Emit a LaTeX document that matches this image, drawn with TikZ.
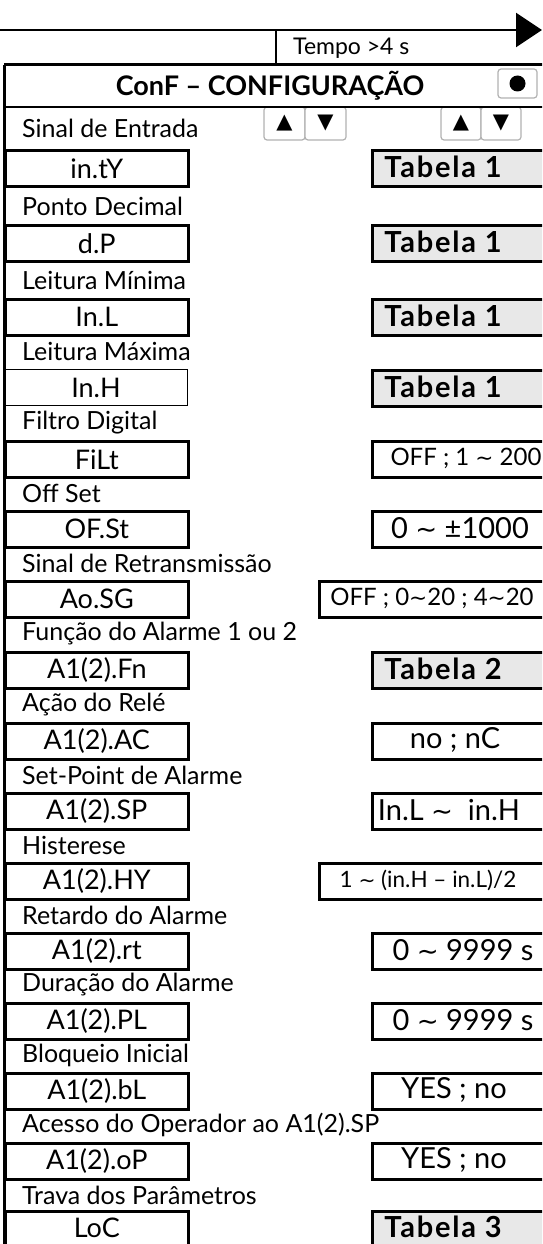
\documentclass[tikz,border=0pt]{standalone}
\usepackage{fontspec}
\setmainfont{Lato}
\newfontfamily\symfont{DejaVu Sans}
\usetikzlibrary{arrows.meta}
\newcommand\tld{{\symfont\addfontfeatures{Scale=0.9}∼}}
\newcommand\tabfont{\fontsize{29}{29}\selectfont\bfseries\addfontfeatures{LetterSpace=6}}
\newcommand\cfgrow[5]{% name, top, label-center, label, key text
  \node[lbl] (L#1) at (22,#3) {#4};
  \node[keybox] (K#1) at (4,#2) {#5};
}
\newcommand\valrow[7]{% name, top, xs, width, style, cx, text
  \node[valbox,#5,minimum width=#4] (V#1) at (#3,#2) {};
  \node[valtxt] (T#1) at (#6,#2+18) {#7};
}
\begin{document}
\begin{tikzpicture}[x=1pt,y=-1pt,
  lbl/.style={anchor=west,inner sep=0pt,font=\fontsize{25}{25}\selectfont},
  keybox/.style={draw,line width=2.6pt,anchor=north west,minimum width=183pt,minimum height=36pt,inner sep=0pt,font=\fontsize{27}{27}\selectfont},
  valbox/.style={draw,line width=2.6pt,anchor=north west,minimum height=36pt,inner sep=0pt,fill=white},
  grey/.style={fill=gray!18},
  plain/.style={},
  valtxt/.style={inner sep=0pt,font=\fontsize{29}{29}\selectfont},
  btn/.style={draw=gray!60,line width=1.2pt,rounded corners=3pt,fill=white,inner sep=0pt,font=\symfont\fontsize{21}{21}\selectfont},
  frame/.style={line width=3pt}]
\clip (0,0) rectangle (542,1244);
% top arrow
\coordinate (a0) at (0,30);
\coordinate (a1) at (542,30);
\draw[line width=2.2pt,-{Triangle[length=26pt,width=34pt]}] (a0) -- (a1);
\coordinate (t0) at (276,30);
\coordinate (t1) at (276,65);
\draw[line width=1.5pt] (t0) -- (t1);
\node[anchor=west,inner sep=0pt,font=\fontsize{23}{23}\selectfont] (tempo) at (293,48) {Tempo >4 s};
% title
\node[font=\fontsize{27}{27}\selectfont\bfseries,inner sep=0pt] (title) at (270,86) {ConF -- CONFIGURAÇÃO};
\node[btn,minimum width=39pt,minimum height=29pt] (dotbtn) at (517.5,83.5) {};
\fill (dotbtn.center) circle (8pt);
\node[btn,minimum width=41pt,minimum height=33pt] (up1) at (284.5,123.5) {▲};
\node[btn,minimum width=41pt,minimum height=33pt] (dn1) at (325.5,123.5) {▼};
\node[btn,minimum width=40pt,minimum height=33pt] (up2) at (461,123.5) {▲};
\node[btn,minimum width=40pt,minimum height=33pt] (dn2) at (501,123.5) {▼};
\coordinate (f0) at (4,65);
\coordinate (f1) at (560,65);
\coordinate (f2) at (4,107);
\coordinate (f3) at (560,107);
\coordinate (f4) at (4,1260);
\draw[frame] (f0) -- (f1);
\draw[line width=2.6pt] (f2) -- (f3);
\draw[frame] (f0) -- (f4);
% rows
\cfgrow{1}{149}{128}{Sinal de Entrada}{in.tY}
\cfgrow{2}{224}{206.5}{Ponto Decimal}{d.P}
\cfgrow{3}{298}{280.5}{Leitura Mínima}{In.L}
\node[keybox,line width=1pt] (K4) at (4,369) {In.H};
\node[lbl] (L4) at (22,351.5) {Leitura Máxima};
\cfgrow{5}{440}{422.5}{Filtro Digital}{FiLt}
\cfgrow{6}{510}{493}{Off Set}{OF.St}
\cfgrow{7}{580}{563}{Sinal de Retransmissão}{Ao.SG}
\cfgrow{8}{651}{633.5}{Função do Alarme 1 ou 2}{A1(2).Fn}
\cfgrow{9}{722}{704.5}{Ação do Relé}{A1(2).AC}
\cfgrow{10}{792}{775}{Set-Point de Alarme}{A1(2).SP}
\cfgrow{11}{862}{845}{Histerese}{A1(2).HY}
\cfgrow{12}{932}{915}{Retardo do Alarme}{A1(2).rt}
\cfgrow{13}{1002}{985}{Duração do Alarme}{A1(2).PL}
\cfgrow{14}{1072}{1055}{Bloqueio Inicial}{A1(2).bL}
\cfgrow{15}{1142}{1125}{Acesso do Operador ao A1(2).SP}{A1(2).oP}
\node[lbl] (L16) at (22,1195) {Trava dos Parâmetros};
\node[keybox,minimum height=34pt] (K16) at (4,1210) {LoC};
% values
\valrow{1}{149}{371}{189pt}{grey}{443}{\tabfont Tabela 1}
\valrow{2}{224}{371}{189pt}{grey}{443}{\tabfont Tabela 1}
\valrow{3}{298}{371}{189pt}{grey}{443}{\tabfont Tabela 1}
\valrow{4}{369}{371}{189pt}{grey}{443}{\tabfont Tabela 1}
\valrow{5}{440}{371}{189pt}{plain}{466}{\fontsize{24}{24}\selectfont OFF ; 1 \tld{} 200}
\valrow{6}{510}{371}{189pt}{plain}{460}{0 \tld{} ±1000}
\valrow{7}{580}{318}{242pt}{plain}{432}{\fontsize{24}{24}\selectfont OFF ; 0\tld{}20 ; 4\tld{}20}
\valrow{8}{651}{371}{189pt}{grey}{443}{\tabfont Tabela 2}
\valrow{9}{722}{371}{189pt}{plain}{455}{no ; nC}
\valrow{10}{792}{371}{189pt}{plain}{449}{In.L \tld{}\ \ in.H}
\valrow{11}{862}{318}{242pt}{plain}{428}{\fontsize{22.5}{22.5}\selectfont 1 \tld{} (in.H -- in.L)/2}
\valrow{12}{932}{371}{189pt}{plain}{463}{0 \tld{} 9999 s}
\valrow{13}{1002}{371}{189pt}{plain}{463}{0 \tld{} 9999 s}
\valrow{14}{1072}{371}{189pt}{plain}{454}{YES ; no}
\valrow{15}{1142}{371}{189pt}{plain}{454}{YES ; no}
\node[valbox,grey,minimum width=189pt,minimum height=34pt] (V16) at (371,1210) {};
\node[valtxt] (T16) at (443,1227) {\tabfont Tabela 3};
\end{tikzpicture}
\end{document}
